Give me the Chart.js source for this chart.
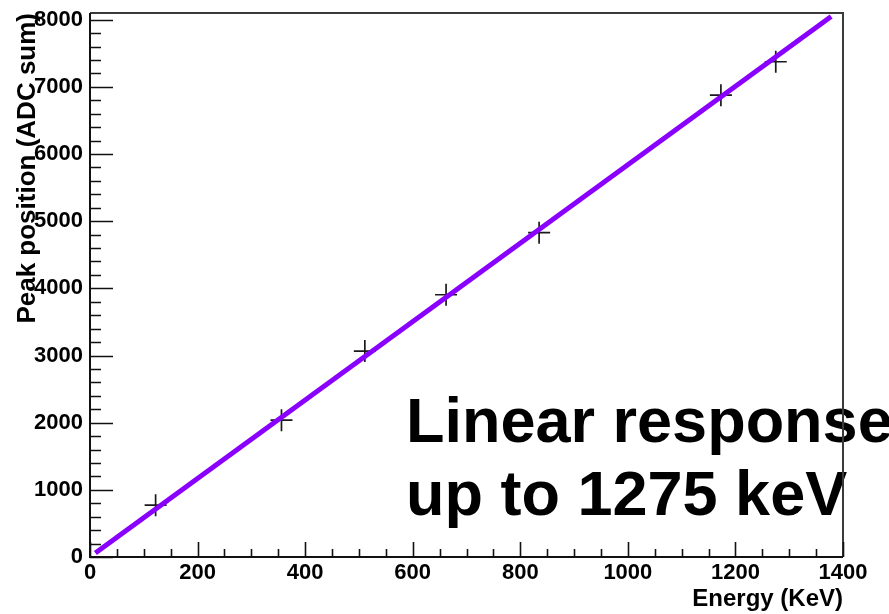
<!DOCTYPE html>
<html>
<head>
<meta charset="utf-8">
<title>Peak position vs energy</title>
<script src="https://cdn.jsdelivr.net/npm/chart.js@4/dist/chart.umd.min.js"></script>
<style>
  html, body { margin: 0; padding: 0; background: #ffffff; }
  canvas { display: block; }
</style>
</head>
<body>
<canvas id="calib" width="889" height="614"></canvas>
<script>
// Calibration points: gamma line energy (keV) and fitted peak position (ADC sum)
const energyKeV = [122, 356, 511, 662, 835, 1173, 1275];
const peakADC   = [771, 2038, 3066, 3905, 4829, 6877, 7374];

// Straight-line fit through the calibration points (end points of the drawn range)
const fitEnergy = [10, 1378];
const fitPeak   = [60, 8049];

// Axis ranges, labelled ticks and minor tick spacing
const xRange = [0, 1400];
const yRange = [0, 8100];
const xTickValues = [0, 200, 400, 600, 800, 1000, 1200, 1400];
const yTickValues = [0, 1000, 2000, 3000, 4000, 5000, 6000, 7000, 8000];
const xMinor = 50;
const yMinor = 200;

const annotationLines = ['Linear response', 'up to 1275 keV'];

const FONT = '"Liberation Sans", Arial, Helvetica, sans-serif';

// Inward tick marks, frame and text box in ROOT style
const rootFrame = {
  id: 'rootFrame',
  afterDatasetsDraw(chart) {
    const ctx = chart.ctx;
    const a = chart.chartArea;
    ctx.save();
    ctx.fillStyle = '#000';
    ctx.font = 'bold 63px ' + FONT;
    ctx.textAlign = 'left';
    ctx.textBaseline = 'alphabetic';
    ctx.fillText(annotationLines[0], a.left + 316, a.top + 429);
    ctx.fillText(annotationLines[1], a.left + 316, a.top + 502);
    ctx.restore();
  },
  afterDraw(chart) {
    const ctx = chart.ctx;
    const a = chart.chartArea;
    const xs = chart.scales.x, ys = chart.scales.y;
    ctx.save();
    // frame
    ctx.strokeStyle = '#3a3a3a';
    ctx.lineWidth = 2;
    ctx.beginPath();
    ctx.moveTo(a.left, a.top);
    ctx.lineTo(a.right, a.top);
    ctx.lineTo(a.right, a.bottom);
    ctx.stroke();
    // axes
    ctx.strokeStyle = '#111';
    ctx.lineWidth = 2;
    ctx.beginPath();
    ctx.moveTo(a.left, a.top);
    ctx.lineTo(a.left, a.bottom);
    ctx.lineTo(a.right, a.bottom);
    ctx.stroke();
    // x ticks (pointing up into the plot)
    ctx.lineWidth = 1.6;
    ctx.beginPath();
    for (let v = xRange[0]; v <= xRange[1] + 1e-6; v += xMinor) {
      const px = Math.round(xs.getPixelForValue(v)) + 0.5;
      const len = xTickValues.includes(v) ? 15 : 8;
      ctx.moveTo(px, a.bottom);
      ctx.lineTo(px, a.bottom - len);
    }
    // y ticks (pointing right into the plot)
    for (let v = yRange[0]; v <= yRange[1] + 1e-6; v += yMinor) {
      const py = Math.round(ys.getPixelForValue(v)) + 0.5;
      const len = yTickValues.includes(v) ? 23 : 11;
      ctx.moveTo(a.left, py);
      ctx.lineTo(a.left + len, py);
    }
    ctx.stroke();
    ctx.restore();
  }
};

new Chart(document.getElementById('calib'), {
  type: 'scatter',
  data: {
    datasets: [
      {
        label: 'Linear fit',
        type: 'line',
        data: fitEnergy.map((e, i) => ({ x: e, y: fitPeak[i] })),
        borderColor: '#8a00ff',
        borderWidth: 5,
        pointRadius: 0,
        fill: false,
        tension: 0
      },
      {
        label: 'Calibration peaks',
        data: energyKeV.map((e, i) => ({ x: e, y: peakADC[i] })),
        pointStyle: 'cross',
        pointRadius: 11,
        pointHoverRadius: 11,
        pointBorderWidth: 1.7,
        borderColor: '#1a1a1a',
        backgroundColor: '#1a1a1a'
      }
    ]
  },
  options: {
    responsive: false,
    animation: false,
    devicePixelRatio: 1,
    layout: { padding: { left: 0, right: 46, top: 13, bottom: 0 } },
    plugins: {
      legend: { display: false },
      tooltip: { enabled: false }
    },
    scales: {
      x: {
        type: 'linear',
        position: 'bottom',
        min: xRange[0],
        max: xRange[1],
        grid: { display: false, drawTicks: false },
        border: { display: false },
        afterBuildTicks(scale) {
          scale.ticks = xTickValues.map(v => ({ value: v }));
        },
        ticks: {
          autoSkip: false,
          color: '#000',
          padding: 3,
          maxRotation: 0,
          callback: v => String(v),
          font: { family: FONT, size: 22, weight: 'bold' }
        },
        title: {
          display: true,
          text: 'Energy (KeV)',
          align: 'end',
          color: '#000',
          padding: { top: 0, bottom: 0 },
          font: { family: FONT, size: 24, weight: 'bold', lineHeight: 1.2 }
        },
        afterFit(scale) { scale.height = 57; }
      },
      y: {
        type: 'linear',
        position: 'left',
        min: yRange[0],
        max: yRange[1],
        grid: { display: false, drawTicks: false },
        border: { display: false },
        afterBuildTicks(scale) {
          scale.ticks = yTickValues.map(v => ({ value: v }));
        },
        ticks: {
          autoSkip: false,
          color: '#000',
          padding: 7,
          callback: v => String(v),
          font: { family: FONT, size: 22, weight: 'bold' }
        },
        title: {
          display: true,
          text: 'Peak position (ADC sum)',
          align: 'end',
          color: '#000',
          padding: { top: 12, bottom: 0 },
          font: { family: FONT, size: 26, weight: 'bold', lineHeight: 1.2 }
        },
        afterFit(scale) {
          scale.width = 90;
          scale.paddingTop = 0;
          scale.paddingBottom = 0;
        }
      }
    }
  },
  plugins: [rootFrame]
});
</script>
</body>
</html>
